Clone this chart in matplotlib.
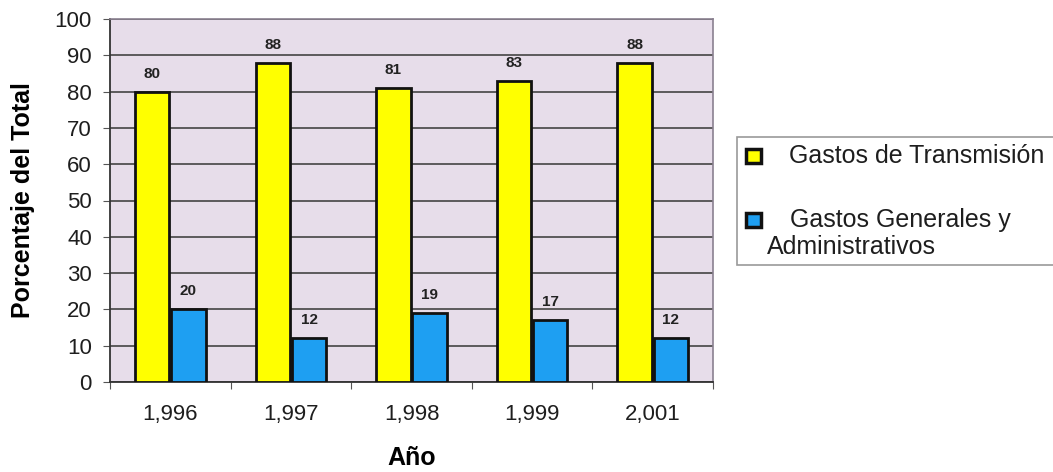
import matplotlib
matplotlib.use("Agg")
import matplotlib.pyplot as plt
from matplotlib.patches import Rectangle
import numpy as np

plt.rcParams['font.family'] = ['Liberation Sans', 'DejaVu Sans']

years = ["1,996", "1,997", "1,998", "1,999", "2,001"]
transmision = [80, 88, 81, 83, 88]
generales = [20, 12, 19, 17, 12]
series_names = ["Gastos de Transmisión", "Gastos Generales y Administrativos"]
yticks = [0, 10, 20, 30, 40, 50, 60, 70, 80, 90, 100]

W, H = 1053, 472
fig = plt.figure(figsize=(W / 100, H / 100), dpi=100)
ax = fig.add_axes([110 / W, 1 - 382 / H, (713 - 110) / W, (382 - 19) / H])
ax.set_facecolor("#E7DDEA")

x = np.arange(len(years))
bw = 0.285
gap = 0.008
b1 = ax.bar(x - bw / 2 - gap, transmision, bw, color="#FFFF00", edgecolor="#111111",
            linewidth=2, zorder=3)
b2 = ax.bar(x + bw / 2 + gap, generales, bw, color="#1E9FF2", edgecolor="#111111",
            linewidth=2, zorder=3)

for bars, vals in ((b1, transmision), (b2, generales)):
    for r, v in zip(bars, vals):
        ax.annotate(f"{v}", (r.get_x() + r.get_width() / 2, v), xytext=(0, 13),
                    textcoords="offset points", ha="center", va="center",
                    fontsize=11, fontweight="bold", color="#222222")

ax.set_xlim(-0.5, len(years) - 0.5)
ax.set_ylim(0, 100)
ax.set_yticks(yticks)
ax.set_yticklabels([str(t) for t in yticks], fontsize=16, color="#1e1e1e")
ax.yaxis.grid(True, color="#444444", linewidth=1.2, zorder=1)
ax.set_axisbelow(True)

ax.set_xticks(np.arange(len(years) + 1) - 0.5)
ax.set_xticklabels([])
ax.set_xticks(x, minor=True)
ax.set_xticklabels(years, minor=True, fontsize=16, color="#1e1e1e")
ax.tick_params(axis="x", which="minor", length=0, pad=16)
ax.tick_params(axis="x", which="major", length=5, color="#555555")
ax.tick_params(axis="y", length=5, color="#555555", pad=8)

for s in ("left", "bottom"):
    ax.spines[s].set_color("#333333")
    ax.spines[s].set_linewidth(1.3)
for s in ("top", "right"):
    ax.spines[s].set_color("#8a8090")
    ax.spines[s].set_linewidth(1.2)

ax.set_ylabel("Porcentaje del Total", fontsize=18, fontweight="bold", labelpad=14)
ax.set_xlabel("Año", fontsize=18, fontweight="bold", labelpad=15)

# Legend box drawn in figure pixels
def fx(px):
    return px / W

def fy(py):
    return 1 - py / H

fig.patches.append(Rectangle((fx(737), fy(265)), fx(W + 10) - fx(737), fy(137) - fy(265),
                             transform=fig.transFigure, facecolor="white",
                             edgecolor="#9a9a9a", linewidth=1.2))
for cy, col in ((156, "#FFFF00"), (220, "#1E9FF2")):
    fig.patches.append(Rectangle((fx(746), fy(cy + 7)), fx(15), fy(0) - fy(14),
                                 transform=fig.transFigure, facecolor=col,
                                 edgecolor="#111111", linewidth=2.5))
fig.text(fx(789), fy(156), series_names[0], fontsize=18, va="center", color="#1e1e1e")
fig.text(fx(790), fy(220), "Gastos Generales y", fontsize=18, va="center", color="#1e1e1e")
fig.text(fx(767), fy(247), "Administrativos", fontsize=18, va="center", color="#1e1e1e")

fig.savefig("out.png", dpi=100, facecolor="white")
